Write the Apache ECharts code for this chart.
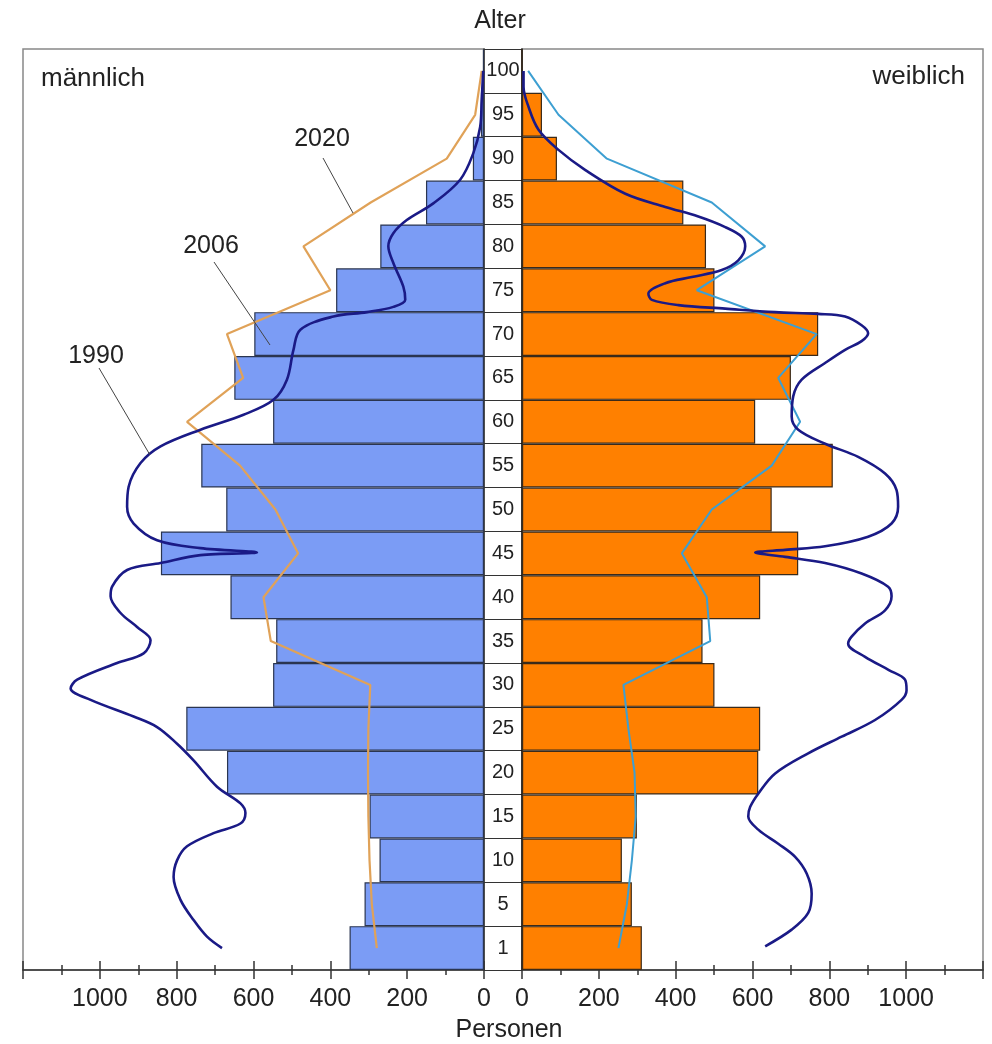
<!DOCTYPE html>
<html><head><meta charset="utf-8">
<script src="https://cdn.jsdelivr.net/npm/echarts@6/dist/echarts.min.js"></script>
<style>html,body{margin:0;padding:0;background:#fff}#c{width:992px;height:1044px}</style>
</head><body><div id="c"></div>
<script>
// Age groups (rows, bottom to top)
const ages = ['1','5','10','15','20','25','30','35','40','45','50','55','60','65','70','75','80','85','90','95','100'];
// 2006 bars (Personen)
const male2006   = [350,311,272,298,669,775,549,541,660,841,671,736,549,650,598,385,270,151,29,8,3];
const female2006 = [312,286,260,299,615,620,501,470,620,719,650,809,607,700,771,501,479,420,91,52,0];
// 2020 lines (value at each row)
const male2020   = [279,292,298,301,302,301,296,555,574,484,543,635,773,627,669,400,470,295,97,23,6];
const female2020 = [251,273,286,296,293,277,264,490,481,416,494,650,724,667,767,455,633,494,221,95,16];
// 1990 curves: [row position (row "1" = 0, row "5" = 5, ... row "100" = 100), Personen]
const male1990 = [[100,2],[96.7,6],[93.6,10],[90.6,28],[87.6,62],[84.9,132],[83,201],[81.5,236],[80,249],[78.1,236],[75.4,210],[73.9,205],[73.1,236],[72.5,305],[72,392],[70.5,478],[68.2,496],[64.8,513],[62.5,548],[60.8,626],[59.1,738],[57.2,842],[55.3,894],[52.6,925],[50.3,929],[48.4,912],[46.5,851],[45.6,738],[45.1,591],[44.8,738],[43.9,842],[43.1,929],[41.2,968],[40.1,972],[38.2,946],[36.6,903],[35.1,868],[33.6,886],[32.5,955],[30.6,1059],[29.6,1076],[28.3,1024],[26.4,912],[25.2,851],[23.3,799],[21.4,756],[18.4,695],[16.5,634],[15.4,621],[14.2,634],[13.1,704],[11.6,773],[10,799],[8.1,808],[5.5,790],[3.2,756],[1.3,721],[0,682]];
const female1990 = [[100,4],[98.2,4],[95.9,17],[93.3,43],[91,95],[88.7,165],[86,269],[84.5,373],[83.4,459],[82.2,529],[81.1,572],[80,581],[78.4,563],[77.3,520],[76.5,442],[75.8,373],[74.6,329],[73.9,338],[73.3,407],[72.9,529],[72.5,659],[72.3,771],[72,841],[71,884],[70.1,901],[69.2,884],[68.2,841],[66.7,789],[64.8,728],[62.9,706],[60.6,702],[59.1,719],[57.5,789],[56,875],[54.1,945],[52.2,975],[50.3,979],[48.4,962],[46.9,901],[45.8,789],[45.4,685],[45.1,607],[44.6,685],[43.9,789],[42.7,884],[41.2,953],[40.1,962],[38.5,945],[37,893],[35.5,858],[34.7,849],[33.2,893],[31.7,955],[30.6,997],[29.4,1001],[28.3,988],[26,919],[24.1,832],[22.2,745],[19.9,659],[17.6,615],[16.1,594],[15,589],[13.5,615],[11.9,667],[10.4,711],[8.5,741],[6.2,754],[4,745],[2.1,702],[0.2,633]];
const xTicks = {min: 0, max: 1200, interval: 200};

const FONT = 'Liberation Sans, Arial, sans-serif';
const chart = echarts.init(document.getElementById('c'), null, {renderer: 'canvas'});
const P = (arr) => arr.map(d => [d[1], d[0]]);

function mainX(grid, inverse) {
  return {
    type: 'value', gridIndex: grid, position: 'bottom', inverse: inverse, min: xTicks.min, max: xTicks.max, interval: xTicks.interval,
    axisLine: {show: true, onZero: false, lineStyle: {color: '#333', width: 1.5}},
    axisTick: {show: true, length: 9, lineStyle: {color: '#333', width: 1.5}},
    minorTick: {show: true, splitNumber: 2, length: 5, lineStyle: {color: '#333', width: 1.5}},
    splitLine: {show: false},
    axisLabel: {show: true, fontSize: 25, color: '#222', fontFamily: FONT, margin: 17, showMaxLabel: false,
                formatter: (v) => String(v)}
  };
}
function dupX(grid, inverse) {
  return {
    type: 'value', gridIndex: grid, position: 'bottom', inverse: inverse, min: xTicks.min, max: xTicks.max, interval: xTicks.interval,
    axisLine: {show: false, onZero: false},
    axisTick: {show: true, inside: true, length: 9, lineStyle: {color: '#333', width: 1.5}},
    minorTick: {show: true, splitNumber: 2, length: 5, lineStyle: {color: '#333', width: 1.5}},
    splitLine: {show: false}, axisLabel: {show: false}
  };
}

const option = {
  animation: false,
  backgroundColor: '#fff',
  textStyle: {fontFamily: FONT},
  grid: [
    {left: 23, top: 49, width: 461, height: 921, show: true, borderColor: '#888', borderWidth: 1.5},
    {left: 484, top: 49, width: 38, height: 921},
    {left: 522, top: 49, width: 461, height: 921, show: true, borderColor: '#888', borderWidth: 1.5}
  ],
  xAxis: [
    mainX(0, true),
    mainX(2, false),
    dupX(0, true),
    dupX(2, false),
    {type: 'value', gridIndex: 1, min: 0, max: 1, show: false}
  ],
  yAxis: [
    {type: 'category', gridIndex: 0, data: ages, position: 'right',
     axisLine: {show: true, onZero: false, lineStyle: {color: '#333', width: 1.5}}, axisTick: {show: false}, axisLabel: {show: false}},
    {type: 'value', gridIndex: 0, min: -2.5, max: 102.5, show: false},
    {type: 'category', gridIndex: 2, data: ages, position: 'left',
     axisLine: {show: true, onZero: false, lineStyle: {color: '#111', width: 1.5}}, axisTick: {show: false}, axisLabel: {show: false}},
    {type: 'value', gridIndex: 2, min: -2.5, max: 102.5, show: false},
    {type: 'category', gridIndex: 1, data: ages, position: 'left',
     axisLine: {show: false, onZero: false}, axisTick: {show: false},
     axisLabel: {show: true, inside: true, margin: 19, align: 'center', interval: 0, fontSize: 20, color: '#222', fontFamily: FONT},
     splitLine: {show: true, interval: 0, lineStyle: {color: '#333', width: 1.2}}}
  ],
  series: [
    {type: 'bar', name: 'männlich 2006', xAxisIndex: 0, yAxisIndex: 0, data: male2006, barCategoryGap: '0%',
     itemStyle: {color: '#7b9cf5', borderColor: '#2a3550', borderWidth: 1.2}, z: 2},
    {type: 'bar', name: 'weiblich 2006', xAxisIndex: 1, yAxisIndex: 2, data: female2006, barCategoryGap: '0%',
     itemStyle: {color: '#ff8000', borderColor: '#3a2a1a', borderWidth: 1.2}, z: 2},
    {type: 'line', name: 'männlich 2020', xAxisIndex: 0, yAxisIndex: 0, data: male2020, symbol: 'none',
     lineStyle: {color: '#e0a258', width: 2.2}, z: 4},
    {type: 'line', name: 'weiblich 2020', xAxisIndex: 1, yAxisIndex: 2, data: female2020, symbol: 'none',
     lineStyle: {color: '#3d9fd2', width: 2}, z: 4},
    {type: 'line', name: 'männlich 1990', xAxisIndex: 0, yAxisIndex: 1, data: P(male1990), symbol: 'none', smooth: 0.35,
     lineStyle: {color: '#1a1a86', width: 2.6}, z: 5},
    {type: 'line', name: 'weiblich 1990', xAxisIndex: 1, yAxisIndex: 3, data: P(female1990), symbol: 'none', smooth: 0.35,
     lineStyle: {color: '#1a1a86', width: 2.6}, z: 5}
  ],
  graphic: [
    {type: 'text', z: 100, style: {text: 'Alter', x: 500, y: 21, textAlign: 'center', textVerticalAlign: 'middle', fontSize: 25, fill: '#222', fontFamily: FONT}},
    {type: 'text', z: 100, style: {text: 'männlich', x: 41, y: 79, textAlign: 'left', textVerticalAlign: 'middle', fontSize: 26, fill: '#222', fontFamily: FONT}},
    {type: 'text', z: 100, style: {text: 'weiblich', x: 965, y: 77, textAlign: 'right', textVerticalAlign: 'middle', fontSize: 26, fill: '#222', fontFamily: FONT}},
    {type: 'text', z: 100, style: {text: 'Personen', x: 509, y: 1030, textAlign: 'center', textVerticalAlign: 'middle', fontSize: 25, fill: '#222', fontFamily: FONT}},
    {type: 'text', z: 100, style: {text: '2020', x: 322, y: 139, textAlign: 'center', textVerticalAlign: 'middle', fontSize: 25, fill: '#222', fontFamily: FONT}},
    {type: 'text', z: 100, style: {text: '2006', x: 211, y: 246, textAlign: 'center', textVerticalAlign: 'middle', fontSize: 25, fill: '#222', fontFamily: FONT}},
    {type: 'text', z: 100, style: {text: '1990', x: 96, y: 356, textAlign: 'center', textVerticalAlign: 'middle', fontSize: 25, fill: '#222', fontFamily: FONT}},
    {type: 'line', z: 100, shape: {x1: 323, y1: 158, x2: 353, y2: 213}, style: {stroke: '#444', lineWidth: 1}},
    {type: 'line', z: 100, shape: {x1: 214, y1: 262, x2: 270, y2: 345}, style: {stroke: '#444', lineWidth: 1}},
    {type: 'line', z: 100, shape: {x1: 99, y1: 368, x2: 150, y2: 455}, style: {stroke: '#444', lineWidth: 1}}
  ]
};
chart.setOption(option);
</script>
</body></html>
